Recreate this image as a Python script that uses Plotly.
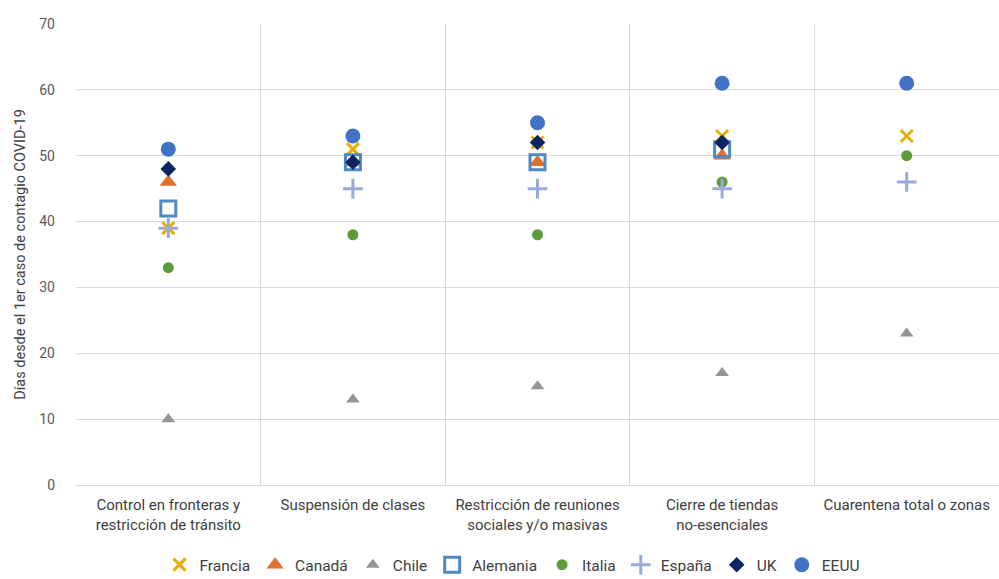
import plotly.graph_objects as go

categories = [
    "Control en fronteras y<br>restricción de tránsito",
    "Suspensión de clases",
    "Restricción de reuniones<br>sociales y/o masivas",
    "Cierre de tiendas<br>no-esenciales",
    "Cuarentena total o zonas",
]

francia = [39, 51, 52, 53, 53]
canada = [46, 49, 49, 50, None]
chile = [10, 13, 15, 17, 23]
alemania = [42, 49, 49, 51, None]
italia = [33, 38, 38, 46, 50]
espana = [39, 45, 45, 45, 46]
uk = [48, 49, 52, 52, None]
eeuu = [51, 53, 55, 61, 61]

x_pos = list(range(len(categories)))

series = [
    ("Francia", francia, dict(symbol="x-thin-open", size=12, line=dict(color="#E8AE00", width=3), color="#E8AE00")),
    ("Canadá", canada, dict(symbol="triangle-up", size=15, color="#E0712C")),
    ("Chile", chile, dict(symbol="triangle-up", size=12, color="#959595")),
    ("Alemania", alemania, dict(symbol="square-open", size=15, color="#4F88C6", line=dict(width=3))),
    ("Italia", italia, dict(symbol="circle", size=11, color="#5E9B3A")),
    ("España", espana, dict(symbol="cross-thin-open", size=14, color="#98AADB", line=dict(color="#98AADB", width=3))),
    ("UK", uk, dict(symbol="diamond", size=12, color="#0C2562")),
    ("EEUU", eeuu, dict(symbol="circle", size=15, color="#4272C5")),
]

fig = go.Figure()
for name, vals, marker in series:
    fig.add_trace(go.Scatter(x=x_pos, y=vals, mode="markers", name=name, marker=marker,
                             cliponaxis=False))

font_fam = "Roboto, 'Noto Sans', sans-serif"
fig.update_layout(
    width=999, height=579,
    margin=dict(l=76, r=0, t=24, b=94, autoexpand=False),
    paper_bgcolor="white", plot_bgcolor="white",
    font=dict(family=font_fam, size=14, color="#404040"),
    showlegend=True,
    legend=dict(orientation="h", x=0.513, xanchor="center", xref="container",
                y=0.024, yanchor="middle", yref="container",
                font=dict(size=15.5, color="#404040"), itemwidth=30, tracegroupgap=0,
                bgcolor="rgba(0,0,0,0)"),
    xaxis=dict(
        range=[-0.5, len(categories) - 0.5],
        tickmode="array", tickvals=x_pos, ticktext=categories, tickangle=0,
        showgrid=False, zeroline=False, showline=False, ticks="",
        ticklabelstandoff=9,
        tickfont=dict(size=15, color="#404040"), automargin=False,
        minor=dict(tickmode="linear", tick0=0.5, dtick=1, showgrid=True,
                   gridcolor="#D9D9D9", gridwidth=1, ticks=""),
    ),
    yaxis=dict(
        range=[0, 70], dtick=10, showgrid=True, gridcolor="#D9D9D9", gridwidth=1,
        zeroline=True, zerolinecolor="#D9D9D9", zerolinewidth=1, showline=False,
        ticks="", ticklabelstandoff=20, automargin=False,
        tickfont=dict(size=14, color="#595959"),
        title=dict(text="Días desde el 1er caso de contagio COVID-19", font=dict(size=14.5, color="#404040"),
                   standoff=10),
    ),
)

fig.write_html("out.html")
